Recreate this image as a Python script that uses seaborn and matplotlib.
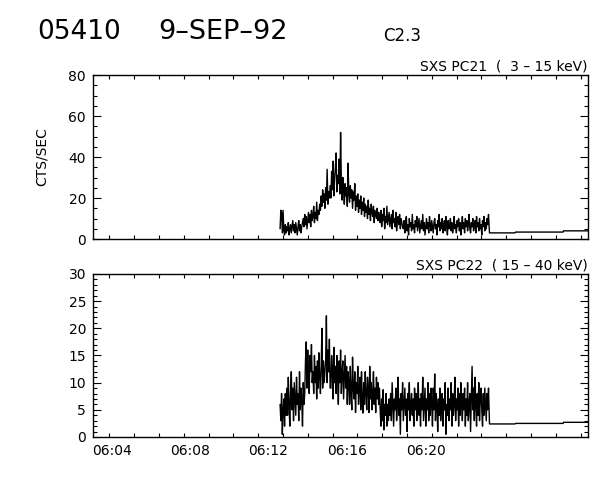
import matplotlib
matplotlib.use("Agg")
import matplotlib.pyplot as plt
import seaborn as sns
import numpy as np
import pandas as pd
from matplotlib.ticker import FixedLocator, FuncFormatter, NullFormatter

sns.set_theme(style="white")
plt.rcParams['font.family'] = ['DejaVu Sans']

# ---- data (time in minutes after 06:00 UT) ----
t_start = 12.59
t_stop = 23.21
top_vals = [5, 14, 13, 3, 14, 4, 2, 7, 3, 6, 4, 8, 2, 5, 7, 3, 6, 9, 4, 7, 3, 8, 5, 2, 6, 9, 4, 7, 3, 6, 8,
            10, 6, 12, 7, 11, 5, 9, 13, 8, 12, 6, 14, 9, 11, 16, 8, 13, 10, 18, 9, 14, 12, 17,
            14, 21, 16, 24, 18, 22, 15, 25, 19, 34, 17, 23, 20,
            26, 20, 33, 24, 38, 21, 29, 35, 42, 23, 31, 27, 39, 22, 52, 28,
            19, 30, 24, 17, 27, 21, 25, 16, 37, 22, 18, 26, 20, 24, 15, 23, 19, 27, 14, 21,
            16, 22, 13, 19, 15, 21, 12, 18, 14, 20, 11, 17, 13, 16, 10, 19, 12, 15, 9, 17,
            13, 11, 16, 8, 14, 12, 10, 15, 9, 13, 11,
            8, 14, 6, 12, 9, 15, 5, 11, 8, 16, 7, 10, 13, 6, 9, 12, 5, 14, 8, 10,
            6, 13, 4, 9, 11, 7, 12, 5, 10, 8, 6,
            5, 9, 3, 8, 11, 4, 7, 2, 10, 6,
            8, 4, 12, 5, 7, 3, 9, 6, 11, 4,
            7, 10, 3, 6, 9, 5, 12, 4, 8, 2,
            6, 10, 5, 8, 3, 11, 7, 4, 9, 6,
            3, 8, 10, 5, 7, 2, 9, 6, 12, 4,
            8, 5, 10, 3, 7, 9, 4, 11, 6, 2,
            9, 5, 7, 10, 4, 8, 3, 6, 11, 5,
            7, 3, 9, 6, 10, 4, 8, 2, 7, 11,
            5, 8, 3, 10, 6, 9, 4, 7, 12, 5,
            3, 8, 6, 10, 4, 7, 9, 3, 11, 6,
            8, 4, 10, 5, 7, 2, 9, 6, 11, 4,
            8, 5, 10, 7,
            12]
bot_vals = [6, 3, 8, 0.5, 5, 7, 2, 8, 4,
            9, 4, 11, 6, 2, 8, 12, 5, 9, 3, 10, 7, 4, 11, 6, 8, 3, 12, 5, 9, 7, 2, 10, 6, 8,
            14, 17.5, 9, 16, 11, 8, 15, 12, 17, 10,
            12, 8, 15, 10, 13, 7, 14, 9, 15.5, 11, 8, 13, 20, 9, 14, 10, 12,
            14, 22.3, 10, 16, 12, 18, 9,
            9, 15, 12, 7, 16.5, 10, 13, 8, 15, 11, 6, 14, 10, 16, 8, 12, 14, 7, 11, 15, 9, 13, 6, 12,
            10, 6, 13, 8, 5, 14.7, 9, 7, 12, 4.5,
            10, 8, 13, 6, 9, 11, 5, 12, 7, 4.4,
            10, 6, 12, 8, 5, 11, 9, 4.5, 13, 7,
            10, 5, 8, 12, 6, 9, 4.5, 11, 7, 10,
            6, 9,
            5, 2, 7, 3, 8.7, 1.3, 6, 4, 8, 2, 6, 3, 7,
            4, 8, 3, 10, 6, 2, 7, 5, 9, 3,
            6, 11, 4, 7, 0.5, 8, 5, 10, 3, 6,
            9, 4, 7, 1, 8, 5, 10, 3, 6, 8,
            4, 7, 2, 9, 5, 8, 3, 6, 10, 4,
            7, 2, 8, 5, 11, 3, 6, 9, 2, 7,
            5, 10, 3, 8, 4, 9, 6, 2, 9, 5,
            11.6, 3, 8, 6, 1, 7, 4, 9, 3, 6,
            8, 2, 7, 5, 10, 0.5, 6, 4, 9, 3,
            7, 5, 10, 2, 8, 4, 6, 11, 3, 7,
            5, 9, 2, 8, 4, 10, 6, 3, 8, 5,
            9, 2, 7, 4, 10, 3, 6, 8, 1, 7,
            13, 5, 9, 3, 11, 6, 2, 8, 4, 10,
            3, 7, 9, 5, 2, 8, 4, 9, 6, 3,
            8, 5,
            9]
tail_t = [23.26, 24.56, 24.59, 27.01, 27.03, 28.28]
top_tail = [3.0, 3.0, 3.4, 3.4, 4.0, 4.0]
bot_tail = [2.4, 2.4, 2.5, 2.5, 2.7, 2.7]

label_minutes = [4, 8, 12, 16, 20]
x_lim = (3.057, 28.28)

def series(vals, tail):
    n = len(vals)
    t = list(np.linspace(t_start, t_stop, n)) + tail_t
    return pd.DataFrame({"t": t, "v": list(vals) + list(tail)})

df_top = series(top_vals, top_tail)
df_bot = series(bot_vals, bot_tail)

fig = plt.figure(figsize=(6, 4.8), dpi=100)
ax1 = fig.add_axes([0.155, 0.502, 0.825, 0.3417])
ax2 = fig.add_axes([0.155, 0.0896, 0.825, 0.3396])

sns.lineplot(data=df_top, x="t", y="v", ax=ax1, color="black", lw=1.0, estimator=None, sort=False)
sns.lineplot(data=df_bot, x="t", y="v", ax=ax2, color="black", lw=1.0, estimator=None, sort=False)

minor_t = [3.888 + 1.2637 * k for k in range(20)]
fmt = FuncFormatter(lambda v, p: "06:%02d" % int(round(v)))
for ax, ylim, ymaj, ymin in [(ax1, (0, 80), [0, 20, 40, 60, 80], np.arange(0, 81, 5)),
                              (ax2, (0, 30), [0, 5, 10, 15, 20, 25, 30], np.arange(0, 31, 1))]:
    ax.set_xlim(*x_lim)
    ax.set_ylim(*ylim)
    ax.set_xlabel("")
    ax.set_ylabel("")
    ax.xaxis.set_major_locator(FixedLocator(label_minutes))
    ax.xaxis.set_minor_locator(FixedLocator(minor_t))
    ax.yaxis.set_major_locator(FixedLocator(ymaj))
    ax.yaxis.set_minor_locator(FixedLocator(list(ymin)))
    ax.tick_params(which="both", direction="in", top=True, right=True, bottom=True, left=True,
                   color="black", width=0.8, labelsize=10, labelcolor="black", pad=5)
    ax.tick_params(which="major", axis="y", length=6)
    ax.tick_params(which="minor", axis="y", length=3)
    ax.tick_params(which="major", axis="x", length=0)
    ax.tick_params(which="minor", axis="x", length=3)
    for s in ax.spines.values():
        s.set_color("black")
        s.set_linewidth(1.0)
    ax.set_facecolor("white")

ax1.xaxis.set_major_formatter(NullFormatter())
ax2.xaxis.set_major_formatter(fmt)
ax1.set_ylabel("CTS/SEC", fontsize=10, color="black", labelpad=14)

fig.text(79 / 600, 1 - 32 / 480, "05410", fontsize=19, ha="center", va="center", color="black")
fig.text(223 / 600, 1 - 32 / 480, "9\u2013SEP\u201392", fontsize=19.5, ha="center", va="center",
         color="black")
fig.text(402 / 600, 1 - 36 / 480, "C2.3", fontsize=12, ha="center", va="center", color="black")
ax1.text(1.0, 1.01, "SXS PC21  (  3 \u2013 15 keV)", transform=ax1.transAxes, ha="right", va="bottom",
         fontsize=10, color="black")
ax2.text(1.0, 1.01, "SXS PC22  ( 15 \u2013 40 keV)", transform=ax2.transAxes, ha="right", va="bottom",
         fontsize=10, color="black")

fig.savefig("out.png", dpi=100, facecolor="white")
